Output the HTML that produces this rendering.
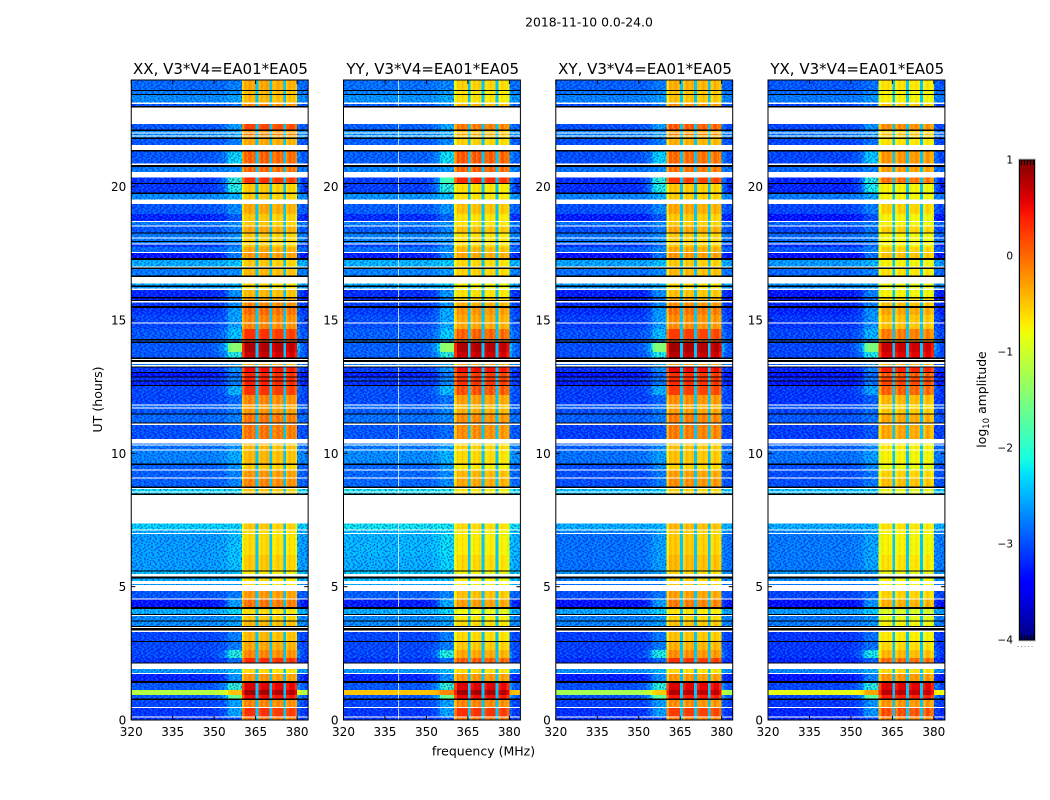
<!DOCTYPE html>
<html lang="en">
<head>
<meta charset="utf-8">
<title>2018-11-10 0.0-24.0</title>
<style>
html,body{margin:0;padding:0;background:#fff;}
svg{display:block;}
text{font-family:"DejaVu Sans","Liberation Sans",sans-serif;fill:#000;}
</style>
</head>
<body>
<svg id="figure" xmlns="http://www.w3.org/2000/svg" width="1050" height="800" viewBox="0 0 1050 800">
  <defs id="defs"></defs>
  <rect x="0" y="0" width="1050" height="800" fill="#fff"></rect>
  <text x="589" y="26.5" font-size="12.4" text-anchor="middle">2018-11-10 0.0-24.0</text>
  <text x="102" y="399.5" font-size="12.6" text-anchor="middle" transform="rotate(-90 102 399.5)">UT (hours)</text>
  <text x="483.5" y="755.5" font-size="12.5" text-anchor="middle">frequency (MHz)</text>
  <text x="986" y="399.5" font-size="12.4" text-anchor="middle" transform="rotate(-90 986 399.5)">log<tspan font-size="8.6" dy="3">10</tspan><tspan dy="-3"> amplitude</tspan></text>
  <g id="panels"></g>
  <g id="colorbar"></g>
</svg>
<script>
const _ = null; // white (no data) row
const K = -9;   // flagged row, below the colour range, drawn black

const polarizations = ['XX', 'YY', 'XY', 'YX'];
const panelTitles = ['XX, V3*V4=EA01*EA05', 'YY, V3*V4=EA01*EA05', 'XY, V3*V4=EA01*EA05', 'YX, V3*V4=EA01*EA05'];
const freqTicks = [320, 335, 350, 365, 380];
const hourTicks = [0, 5, 10, 15, 20];
const colorTicks = [1, 0, -1, -2, -3, -4];
const colorTickLabels = ['1', '0', '\u22121', '\u22122', '\u22123', '\u22124'];

// upper edge (UT hours) of every time segment
const segEndHour = [
 .09,.13,.45,.49,.75,.81,.94,1.13,1.39,1.46,
 1.73,1.76,1.91,2.12,2.16,2.33,2.63,2.93,2.96,3.30,
 3.36,3.45,3.49,3.53,3.69,3.73,3.90,3.94,3.98,4.16,
 4.24,4.52,4.56,4.84,5.06,5.10,5.21,5.31,5.38,5.48,
 5.57,5.61,6.19,6.98,7.01,7.11,7.14,7.37,8.44,8.49,
 8.53,8.57,8.66,8.70,8.76,9.06,9.09,9.36,9.39,9.56,
 9.62,10.10,10.14,10.29,10.33,10.37,10.54,11.06,11.12,11.16,
 11.46,11.49,11.68,11.72,11.79,11.83,12.19,12.53,12.56,12.69,
 12.73,12.84,12.88,13.01,13.05,13.22,13.26,13.31,13.35,13.42,
 13.50,13.54,13.59,13.80,14.14,14.19,14.23,14.29,14.66,14.87,
 14.91,15.19,15.45,15.53,15.66,15.71,15.75,15.81,15.86,16.13,
 16.18,16.24,16.29,16.37,16.61,16.67,16.91,16.97,17.01,17.25,
 17.33,17.51,17.55,17.74,17.83,17.87,17.93,17.96,18.06,18.09,
 18.24,18.28,18.51,18.54,18.68,18.71,18.98,19.35,19.52,19.73,
 19.78,20.10,20.14,20.34,20.55,20.74,20.81,20.87,21.32,21.38,
 21.56,21.79,21.84,21.88,21.92,21.99,22.03,22.09,22.14,22.35,
 22.97,23.03,23.10,23.16,23.44,23.48,23.59,23.63,24
];
// log10 amplitude of the 320-355 MHz background per segment
const bgLevel = [
 -2.9,_,-2.9,_,-2.8,K,-2.7,-1.0,-2.7,K,
 -3.0,_,-2.3,_,K,-2.9,-2.8,-2.8,K,-2.8,
 _,K,_,K,-2.4,K,-2.4,_,K,-2.2,
 K,-3.1,_,-2.7,_,-2.4,_,-2.3,K,_,
 -2.2,K,-2.4,-2.4,_,-2.3,_,-2.1,_,K,
 -2.0,_,-2.0,_,K,-2.7,_,-2.7,_,-2.7,
 K,-2.5,_,-2.6,_,-2.6,_,-2.8,_,K,
 -2.6,K,-2.7,_,-2.6,_,-2.8,-2.8,K,-3.0,
 K,-2.9,K,-3.1,K,-2.9,K,_,-2.5,_,
 K,_,K,-2.7,-2.7,K,-2.6,K,-2.7,-2.8,
 _,-2.8,-2.9,K,-2.9,_,K,-3.0,K,-3.0,
 _,-2.3,K,-2.2,_,K,-2.5,K,_,-2.2,
 K,-3.1,_,-2.6,-2.9,_,-2.5,K,-2.5,_,
 -2.5,K,-2.7,_,-2.5,_,-3.0,-2.7,_,-2.4,
 K,-2.9,K,-2.9,_,-2.5,K,_,-2.7,K,
 _,-2.7,K,-2.4,_,-2.4,_,-2.4,K,-2.7,
 _,K,-2.7,_,-2.4,K,-2.5,K,-2.6
];
// log10 amplitude of the 355-360 MHz transition per segment
const transLevel = [
 -2.8,_,-2.3,_,-2.3,_,-1.4,-.4,-1.7,_,
 -2.4,_,-2.1,_,_,-2.6,-1.8,-2.5,_,-2.5,
 _,_,_,_,-2.3,_,-2.3,_,_,-2.0,
 _,-2.3,_,-2.5,_,-2.4,_,-2.3,_,_,
 -2.2,_,-2.2,-2.2,_,-2.2,_,-2.1,_,_,
 -2.0,_,-2.0,_,_,-2.5,_,-2.5,_,-2.4,
 _,-2.3,_,-2.4,_,-2.4,_,-2.7,_,_,
 -2.5,_,-2.5,_,-2.5,_,-2.6,-2.2,_,-2.5,
 _,-2.5,_,-2.6,_,-2.4,_,_,-2.3,_,
 _,_,_,-1.8,-1.2,_,-2.4,_,-2.1,-2.3,
 _,-2.3,-2.3,_,-2.4,_,_,-2.5,_,-2.4,
 _,-2.2,_,-2.1,_,_,-2.4,_,_,-2.1,
 _,-2.5,_,-2.4,-2.6,_,-2.4,_,-2.4,_,
 -2.4,_,-2.5,_,-2.4,_,-2.7,-2.4,_,-2.2,
 _,-1.8,_,-1.7,_,-2.4,_,_,-2.0,_,
 _,-2.5,_,-2.3,_,-2.3,_,-2.3,_,-2.3,
 _,_,-2.5,_,-2.3,_,-2.4,_,-2.5
];
// log10 amplitude of the 360-380 MHz band plateau per segment
const peakLevel = [
 0,_,.3,_,-.1,_,.5,.85,.6,_,
 -.2,_,-.6,_,_,.35,-.1,-.3,_,-.4,
 _,_,_,_,-.4,_,-.5,_,_,-.6,
 _,0,_,-.2,_,-.4,_,-.4,_,_,
 -.5,_,-.3,-.4,_,-.4,_,-.3,_,_,
 -.5,_,-.5,_,_,-.1,_,-.2,_,-.5,
 _,-.4,_,-.4,_,-.4,_,0,_,_,
 0,_,-.2,_,-.3,_,-.1,.3,_,.4,
 _,.4,_,.35,_,.5,_,_,-.3,_,
 _,_,_,.7,.8,_,.2,_,.3,-.1,
 _,-.1,.05,_,-.1,_,_,-.3,_,-.4,
 _,-.5,_,-.5,_,_,-.3,_,_,-.4,
 _,-.1,_,-.2,-.4,_,-.4,_,-.4,_,
 -.4,_,-.2,_,-.4,_,-.4,-.2,_,-.4,
 _,-.4,_,.3,_,.05,_,_,.1,_,
 _,-.3,_,-.3,_,-.1,_,-.2,_,.2,
 _,_,-.1,_,-.4,_,-.4,_,-.3
];

// hour-by-hour polarization offsets relative to the levels above
const bgShiftXX = [-.25,-.25,-.25,-.25,-.25,-.15,-.15,-.15,-.2,-.2,-.2,-.25,-.25,-.25,-.25,-.25,-.25,-.25,-.25,-.25,-.25,-.25,-.25,-.25];
const bgShiftYY = [-.25,-.25,-.25,-.25,-.2,-.05,0,-.05,-.15,-.15,-.15,-.2,-.2,-.2,-.2,-.2,-.2,-.2,-.2,-.2,-.2,-.2,-.2,-.2];
const bgShiftXY = [-.3,-.3,-.3,-.3,-.3,-.4,-.4,-.35,-.3,-.3,-.3,-.3,-.3,-.3,-.3,-.3,-.3,-.3,-.3,-.3,-.3,-.3,-.3,-.3];
const bgShiftYX = [-.35,-.35,-.35,-.35,-.35,-.35,-.35,-.35,-.3,-.3,-.3,-.35,-.35,-.35,-.35,-.35,-.35,-.35,-.35,-.35,-.35,-.35,-.35,-.35];
const peakShiftXX = [0,0,0,0,0,-.2,-.2,-.2,0,0,0,0,0,0,0,0,-.1,-.1,-.1,-.1,0,0,0,0];
const peakShiftYY = [0,0,-.2,-.2,-.25,-.3,-.3,-.3,-.2,-.2,-.15,-.15,-.1,0,-.2,-.25,-.25,-.2,-.25,-.25,.05,-.25,-.25,-.25];
const peakShiftXY = [-.05,0,-.05,-.05,-.05,-.1,-.1,-.1,-.05,-.05,-.05,-.05,-.05,.05,-.05,-.05,-.1,-.1,-.1,-.1,-.05,-.05,-.05,-.05];
const peakShiftYX = [-.1,0,-.3,-.35,-.35,-.35,-.35,-.35,-.35,-.35,-.3,-.3,-.2,-.1,-.35,-.35,-.35,-.35,-.35,-.35,-.3,-.35,-.35,-.35];
const subbandShiftXX = [0,0,-.05,-.05];
const subbandShiftYY = [0,0,-.02,-.05];
const subbandShiftXY = [0,-.02,-.05,-.05];
const subbandShiftYX = [0,0,-.03,-.03];
// level of the strong stripe just above 1 h
const stripeLevelByPol = [-1.15, -.5, -1.25, -.85];

// fraction of transition level mixed into the 1 MHz channels outside the band (320..383)
const channelMix = [
 0,0,0,0,0,0,0,0,0,0,0,0,0,0,0,0,0,0,0,0,
 0,0,0,0,0,0,0,0,0,.02,.05,.1,.15,.25,.45,.9,1,1,1,1,
 0,0,0,0,0,0,0,0,0,0,0,0,0,0,0,0,0,0,0,0,
 .35,.15,0,0
];
// fraction of the way from plateau down to the band floor, 1 MHz channels 360..379
const bandDrop = [.14,0,0,0,0, 1,.05,0,0,0, 1,.05,0,0,0, 1,.05,0,0,.08];
const bandFloor = -2.4;
// sub-band interiors (MHz) that carry the fine comb texture
const subbandStart = [360, 366, 371, 376];
const subbandStop = [365, 370, 375, 380];
// channel with persistent interference per polarization
const rfiFreqXX = [];
const rfiFreqYY = [339.8];
const rfiFreqXY = [];
const rfiFreqYX = [];

// hand-made speckle tiles: d = dark, l = light
const speckleTile = [
 'd.l..dl.d..l.d.dl..d.l.',
 '.ld.d..l.dd.l..l.d.l..d',
 'l..d.l.d..l.d.dl..d..ld',
 '.d.l..dl.d.l..l.d.l.d..',
 'd.l.dd..l..dl.d..l.d.l.',
 '.l..l.d.d.l..d.ld..l..d',
 '.d.ld..l.l.d.l..d.l.dd.',
 'l.d..l.d..d.l.d.l..d..l',
 '..l.d.l.dl..d.l.d.dl.d.',
 'd.d.l..d.l.d.l..l...l.d',
 '.l..d.dl.d..l.d.d.l.d..',
 'l.d.l...d.l.d.l..d.l.dl',
 '.d.l.d.l.d..d..l.d..l..',
 'd..l.d.d.l.l..d.l.l.d.d',
 '.l.d..l.d..d.l..d.d.l..',
 'd.l.l.d..l.d.d.l..l..dl',
 '.d..d.l.d.l..l.d.d.l.d.',
 'l.d.l..d.l.d.d.l..d...l',
 '.l.d.dl..d..l..d.l.dl.d'
];
const combTile = ['y.r.', 'y...', 'y.r.', '.yr.'];

const svgNS = 'http://www.w3.org/2000/svg';
const panelLeft = [131.25, 343.5, 555.8, 768];
const panelWidth = 176.9;
const panelTop = 80;
const panelBottom = 720;
const freqMin = 320, freqMax = 384, hourMin = 0, hourMax = 24, colorMin = -4, colorMax = 1;

function xScale(panel, f) { return panelLeft[panel] + (f - freqMin) / (freqMax - freqMin) * panelWidth; }
function yScale(h) { return panelBottom - (h - hourMin) / (hourMax - hourMin) * (panelBottom - panelTop); }
function colorAxis(v) { return 640 - (v - colorMin) / (colorMax - colorMin) * 480; }

function interp(knots, t) {
  for (let i = 1; i < knots.length; i++) {
    if (t <= knots[i][0]) {
      const a = knots[i - 1], b = knots[i];
      return a[1] + (b[1] - a[1]) * (t - a[0]) / (b[0] - a[0]);
    }
  }
  return knots[knots.length - 1][1];
}
const jetR = [[0,0],[.35,0],[.66,1],[.89,1],[1,.5]];
const jetG = [[0,0],[.125,0],[.375,1],[.64,1],[.91,0],[1,0]];
const jetB = [[0,.5],[.11,1],[.34,1],[.65,0],[1,0]];
function jet(v) {
  const t = Math.max(0, Math.min(1, (v - colorMin) / (colorMax - colorMin)));
  return 'rgb(' + Math.round(interp(jetR, t) * 255) + ',' + Math.round(interp(jetG, t) * 255) + ',' + Math.round(interp(jetB, t) * 255) + ')';
}

function mk(tag, attrs, parent) {
  const el = document.createElementNS(svgNS, tag);
  for (const k in attrs) el.setAttribute(k, attrs[k]);
  (parent || document.getElementById('figure')).appendChild(el);
  return el;
}

// patterns built from the tiles
const defs = document.getElementById('defs');
const speckleCellW = 1.4, speckleCellH = 1.35;
const specklePattern = mk('pattern', {id: 'speckle', patternUnits: 'userSpaceOnUse', width: 23 * speckleCellW, height: 19 * speckleCellH}, defs);
speckleTile.forEach(function (line, r) {
  for (let c = 0; c < line.length; c++) {
    if (line[c] === '.') continue;
    mk('rect', {x: c * speckleCellW, y: r * speckleCellH, width: speckleCellW, height: speckleCellH,
      fill: line[c] === 'd' ? 'rgba(0,0,225,.6)' : 'rgba(0,200,255,.45)'}, specklePattern);
  }
});
const combPattern = mk('pattern', {id: 'comb', patternUnits: 'userSpaceOnUse', width: 5.6, height: 5.4}, defs);
combTile.forEach(function (line, r) {
  for (let c = 0; c < line.length; c++) {
    if (line[c] === '.') continue;
    mk('rect', {x: c * 1.4, y: r * 1.35, width: 1.4, height: 1.35,
      fill: line[c] === 'y' ? 'rgba(255,240,40,.32)' : 'rgba(230,40,0,.12)'}, combPattern);
  }
});

const bgShifts = [bgShiftXX, bgShiftYY, bgShiftXY, bgShiftYX];
const peakShifts = [peakShiftXX, peakShiftYY, peakShiftXY, peakShiftYX];
const subbandShifts = [subbandShiftXX, subbandShiftYY, subbandShiftXY, subbandShiftYX];
const rfiFreqs = [rfiFreqXX, rfiFreqYY, rfiFreqXY, rfiFreqYX];

function channelValue(panel, ch, bg, trans, peak) {
  if (ch >= 40 && ch < 60) {
    const sub = Math.floor((ch - 40) / 5);
    const p = peak + subbandShifts[panel][sub];
    return p - bandDrop[ch - 40] * (p - bandFloor);
  }
  return bg + channelMix[ch] * (trans - bg);
}

const panelsGroup = document.getElementById('panels');
polarizations.forEach(function (pol, panel) {
  const g = mk('g', {}, panelsGroup);
  
  
  const heat = mk('g', {'shape-rendering': 'crispEdges'}, g);
  
  

  let start = hourMin;
  const count = Math.min(segEndHour.length, bgLevel.length, transLevel.length, peakLevel.length);
  for (let s = 0; s < count; s++) {
    const end = segEndHour[s];
    const yTop = yScale(end), yBot = yScale(start);
    const hourIndex = Math.min(23, Math.floor(start));
    const raw = bgLevel[s];
    if (raw === K) {
      const flagged = mk('rect', {x: xScale(panel, freqMin), y: yTop, width: panelWidth, height: yBot - yTop, fill: '#000'}, heat);
      
      
    } else if (raw !== null) {
      const stripe = raw > -1.5;
      const bg = stripe ? stripeLevelByPol[panel] : raw + bgShifts[panel][hourIndex];
      const trans = transLevel[s] + (stripe ? (stripeLevelByPol[panel] - raw) * .5 : bgShifts[panel][hourIndex] * .85);
      const peak = peakLevel[s] + peakShifts[panel][hourIndex];
      let runStart = 0;
      let runColor = jet(channelValue(panel, 0, bg, trans, peak));
      for (let ch = 1; ch <= 64; ch++) {
        const color = ch < 64 ? jet(channelValue(panel, ch, bg, trans, peak)) : null;
        if (color !== runColor) {
          const x0 = xScale(panel, freqMin + runStart), x1 = xScale(panel, freqMin + ch);
          const cell = mk('rect', {x: x0, y: yTop, width: x1 - x0, height: yBot - yTop, fill: runColor}, heat);
          
          
          runStart = ch;
          runColor = color;
        }
      }
      if (!stripe) {
        const speckleStop = trans < -1.9 ? 360 : 355;
        const spk = mk('rect', {x: xScale(panel, 320), y: yTop, width: xScale(panel, speckleStop) - xScale(panel, 320), height: yBot - yTop, fill: 'url(#speckle)'}, heat);
        
        
        const spk2 = mk('rect', {x: xScale(panel, 380), y: yTop, width: xScale(panel, 384) - xScale(panel, 380), height: yBot - yTop, fill: 'url(#speckle)'}, heat);
        
        
      }
      if (peak < .2) {
        subbandStart.forEach(function (f0, i) {
          const x0 = xScale(panel, f0), x1 = xScale(panel, subbandStop[i]);
          const comb = mk('rect', {x: x0, y: yTop, width: x1 - x0, height: yBot - yTop, fill: 'url(#comb)'}, heat);
          
          
        });
      }
      rfiFreqs[panel].forEach(function (f) {
        const rfi = mk('rect', {x: xScale(panel, f), y: yTop, width: 1, height: yBot - yTop, fill: 'rgba(255,255,255,.75)'}, heat);
        
        
      });
    }
    start = end;
  }

  // frame
  const left = panelLeft[panel], right = left + panelWidth;
  const frame = mk('rect', {x: left, y: panelTop, width: panelWidth, height: panelBottom - panelTop, fill: 'none', stroke: '#000', 'stroke-width': 1}, g);
  
  

  // ticks and labels
  freqTicks.forEach(function (f) {
    const x = xScale(panel, f);
    const tb = mk('line', {x1: x, x2: x, y1: panelBottom, y2: panelBottom - 4, stroke: '#000', 'stroke-width': 1}, g);
    
    
    const tt = mk('line', {x1: x, x2: x, y1: panelTop, y2: panelTop + 4, stroke: '#000', 'stroke-width': 1}, g);
    
    
    const lab = mk('text', {x: x, y: 736, 'font-size': 12, 'text-anchor': 'middle'}, g);
    
    
    lab.textContent = String(f);
  });
  hourTicks.forEach(function (h) {
    const y = yScale(h);
    const tl = mk('line', {x1: left, x2: left + 4, y1: y, y2: y, stroke: '#000', 'stroke-width': 1}, g);
    
    
    const tr = mk('line', {x1: right, x2: right - 4, y1: y, y2: y, stroke: '#000', 'stroke-width': 1}, g);
    
    
    const lab = mk('text', {x: left - 5, y: y + 4.5, 'font-size': 12, 'text-anchor': 'end'}, g);
    
    
    lab.textContent = String(h);
  });
  const title = mk('text', {x: left + panelWidth / 2 + .8, y: 74, 'font-size': 15, 'text-anchor': 'middle'}, g);
  
  
  title.textContent = panelTitles[panel];
});

// colorbar
const cbLeft = 1019.5, cbRight = 1034.5;
const cb = document.getElementById('colorbar');
const grad = mk('linearGradient', {id: 'jetGradient', x1: 0, x2: 0, y1: 1, y2: 0}, defs);
for (let i = 0; i <= 50; i++) {
  mk('stop', {offset: i / 50, 'stop-color': jet(colorMin + (colorMax - colorMin) * i / 50)}, grad);
}
const halo = mk('rect', {x: cbLeft - 1, y: colorAxis(colorMax) - 1, width: cbRight - cbLeft + 2, height: 482, fill: 'none', stroke: '#ccc', 'stroke-width': 1}, cb);


const ramp = mk('rect', {x: cbLeft, y: colorAxis(colorMax), width: cbRight - cbLeft, height: 480, fill: 'url(#jetGradient)', stroke: '#000', 'stroke-width': 1}, cb);


colorTicks.forEach(function (v, i) {
  const lab = mk('text', {x: 1013, y: colorAxis(v) + 3.5, 'font-size': 10.5, 'text-anchor': 'end'}, cb);
  
  
  lab.textContent = colorTickLabels[i];
});
[0, .25, .5, .75, 1].forEach(function (frac) {
  const x = cbLeft + 2 + frac * (cbRight - cbLeft - 3);
  const a = mk('line', {x1: x, x2: x, y1: colorAxis(colorMax), y2: colorAxis(colorMax) + 5, stroke: '#000', 'stroke-width': 1}, cb);
  
  
  const b = mk('line', {x1: x, x2: x, y1: colorAxis(colorMin), y2: colorAxis(colorMin) - 5, stroke: '#000', 'stroke-width': 1}, cb);
  
  
});
const dots = mk('line', {x1: 1017.5, x2: 1035, y1: 646.5, y2: 646.5, stroke: '#888', 'stroke-width': 1, 'stroke-dasharray': '1 2.5'}, cb);


</script>
</body>
</html>
